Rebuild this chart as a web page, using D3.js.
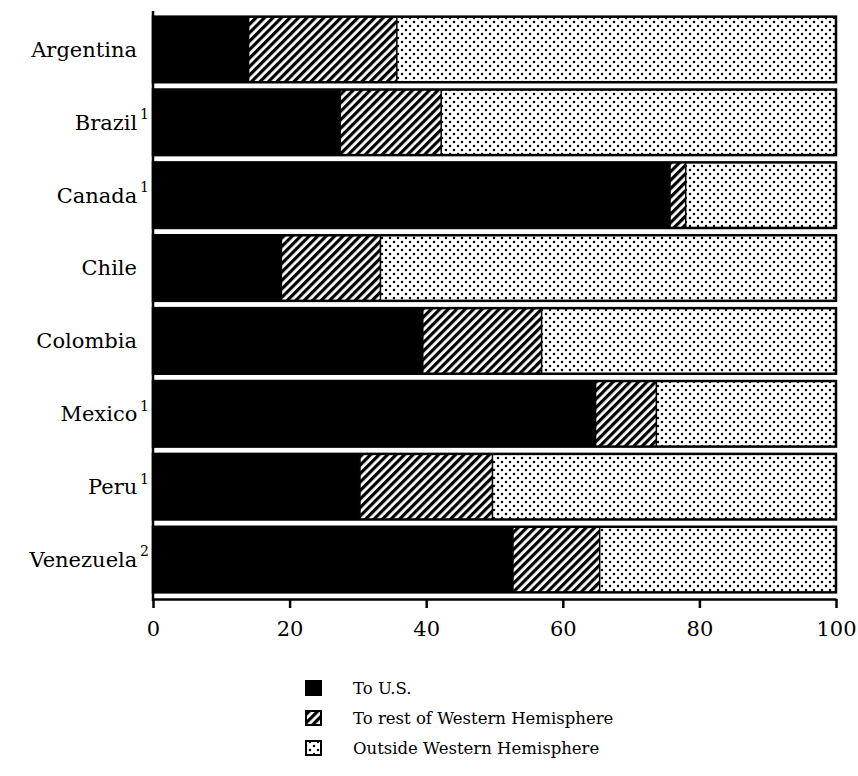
<!DOCTYPE html>
<html>
<head>
<meta charset="utf-8">
<script src="https://cdn.jsdelivr.net/npm/d3@7"></script>
<style>
html,body{margin:0;padding:0;background:#fff;}
svg{display:block;}
</style>
</head>
<body>
<svg id="chart" width="858" height="776"></svg>
<script>
const countries = ["Argentina","Brazil","Canada","Chile","Colombia","Mexico","Peru","Venezuela"];
const footnotes = ["","1","1","","","1","1","2"];
const toUS       = [14.0, 27.4, 75.7, 18.8, 39.5, 64.8, 30.3, 52.7];
const toRestWH   = [21.7, 14.8,  2.3, 14.5, 17.4,  8.9, 19.4, 12.7];
const outsideWH  = [64.3, 57.8, 22.0, 66.7, 43.1, 26.3, 50.3, 34.6];
const seriesKeys = ["toUS","toRestWH","outsideWH"];
const seriesLabels = ["To U.S.","To rest of Western Hemisphere","Outside Western Hemisphere"];
const xTicks = [0,20,40,60,80,100];

const svg = d3.select("#chart");
const font = "'DejaVu Serif', 'Liberation Serif', serif";

const defs = svg.append("defs");
const hatch = defs.append("pattern").attr("id","hatch")
  .attr("patternUnits","userSpaceOnUse").attr("width",6).attr("height",6)
  .attr("patternTransform","rotate(45)");
hatch.append("rect").attr("width",6).attr("height",6).attr("fill","#fff");
hatch.append("rect").attr("width",3.2).attr("height",6).attr("fill","#000");

const dots = defs.append("pattern").attr("id","dots")
  .attr("patternUnits","userSpaceOnUse").attr("width",8).attr("height",8);
dots.append("rect").attr("width",8).attr("height",8).attr("fill","#fff");
dots.append("circle").attr("cx",2).attr("cy",2).attr("r",1.25).attr("fill","#000");
dots.append("circle").attr("cx",6).attr("cy",6).attr("r",1.25).attr("fill","#000");

const fills = {toUS:"#000", toRestWH:"url(#hatch)", outsideWH:"url(#dots)"};

const x = d3.scaleLinear().domain([0,100]).range([153,836]);
const y = d3.scaleBand().domain(countries).range([13,596]).paddingInner(0.1).paddingOuter(0.05);

const table = countries.map((c,i)=>({country:c, toUS:toUS[i], toRestWH:toRestWH[i], outsideWH:outsideWH[i]}));
const stacked = d3.stack().keys(seriesKeys)(table);

const g = svg.append("g");
stacked.forEach(layer=>{
  g.append("g").selectAll("rect").data(layer).join("rect")
    .attr("x", d=>x(d[0]))
    .attr("y", d=>y(d.data.country))
    .attr("width", d=>x(d[1])-x(d[0]))
    .attr("height", y.bandwidth())
    .attr("fill", fills[layer.key]);
});
// bar outlines
g.append("g").selectAll("rect").data(stacked[2]).join("rect")
  .attr("x", x(0)).attr("y", d=>y(d.data.country))
  .attr("width", d=>x(d[1])-x(0)).attr("height", y.bandwidth())
  .attr("fill","none").attr("stroke","#000").attr("stroke-width",2.5);
// segment separators
stacked.slice(0,2).forEach(layer=>{
  g.append("g").selectAll("line").data(layer).join("line")
    .attr("x1", d=>x(d[1])).attr("x2", d=>x(d[1]))
    .attr("y1", d=>y(d.data.country)).attr("y2", d=>y(d.data.country)+y.bandwidth())
    .attr("stroke","#000").attr("stroke-width",1.5);
});

// x axis
const xAxis = d3.axisBottom(x).tickValues(xTicks).tickSize(9).tickSizeOuter(0).tickFormat(d3.format("d"));
const ax = svg.append("g").attr("transform","translate(0,599)").call(xAxis);
ax.select(".domain").attr("stroke-width",2.5);
ax.selectAll(".tick line").attr("stroke-width",2.5);
ax.selectAll(".tick text").attr("font-family",font).attr("font-size",21).attr("dy","1.2em").attr("fill","#000");

// y axis line
svg.append("line").attr("x1",x(0)).attr("x2",x(0)).attr("y1",11).attr("y2",601)
  .attr("stroke","#000").attr("stroke-width",2.5);

// category labels
const labels = svg.append("g").selectAll("text").data(countries).join("text")
  .attr("x",(d,i)=> footnotes[i] ? 149 : 137)
  .attr("y", d=>y(d)+y.bandwidth()/2)
  .attr("dy","0.35em")
  .attr("text-anchor","end")
  .attr("font-family",font).attr("font-size",21).attr("fill","#000");
labels.append("tspan").text(d=>d);
labels.append("tspan").text((d,i)=>footnotes[i] ? "\u2009"+footnotes[i] : "")
  .attr("font-size",14).attr("dy","-0.75em");

// legend
const lg = svg.append("g");
seriesKeys.forEach((k,i)=>{
  const yy = 681 + i*30;
  lg.append("rect").attr("x",306).attr("y",yy).attr("width",15).attr("height",14)
    .attr("fill",fills[k]).attr("stroke","#000").attr("stroke-width",2);
  lg.append("text").attr("x",353).attr("y",yy+7).attr("dy","0.35em")
    .attr("font-family",font).attr("font-size",16.5).attr("fill","#000").text(seriesLabels[i]);
});
</script>
</body>
</html>
